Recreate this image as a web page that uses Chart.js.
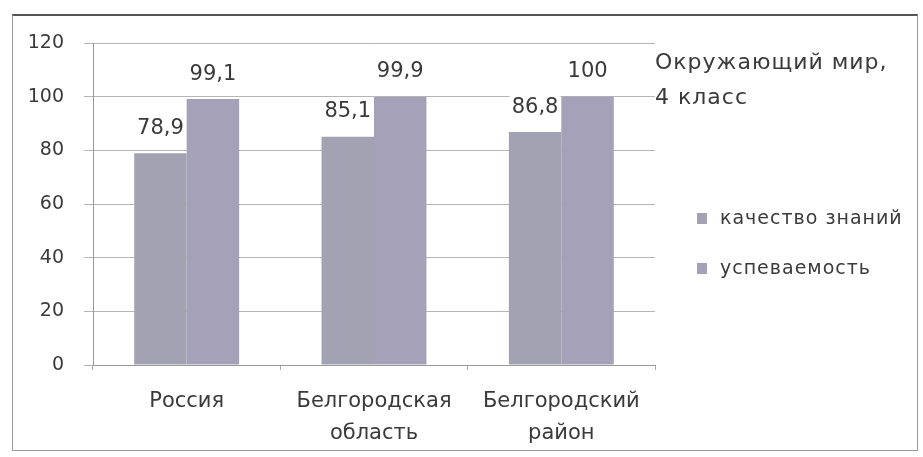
<!DOCTYPE html>
<html>
<head>
<meta charset="utf-8">
<script src="https://cdn.jsdelivr.net/npm/chart.js@4.4.1/dist/chart.umd.min.js"></script>
<style>
  html, body { margin: 0; padding: 0; background: #fff; }
  #wrap { position: relative; width: 923px; height: 457px; }
  #frame { position: absolute; left: 12px; top: 14px; width: 906px; height: 437px; border: 1px solid #9a9a9a; border-top: 2px solid #555; box-sizing: border-box; }
  #chart { position: absolute; left: 0; top: 0; }
  .txt { position: absolute; font-family: "DejaVu Sans", sans-serif; color: #3a3a3a; white-space: nowrap; }
  #title { left: 655px; top: 44px; font-size: 22px; line-height: 35px; letter-spacing: 1px; }
  #legend { left: 697px; top: 206px; font-size: 19px; letter-spacing: 1px; }
  #legend div { height: 50px; line-height: 22px; }
  #legend span.box { display: inline-block; width: 10px; height: 11px; margin-right: 13px; vertical-align: 0px; }
</style>
</head>
<body>
<div id="wrap">
  <div id="frame"></div>
  <canvas id="chart" width="923" height="457"></canvas>
  <div id="title" class="txt">Окружающий мир,<br>4 класс</div>
  <div id="legend" class="txt"></div>
</div>
<script>
// данные диаграммы
const categories = [["Россия"], ["Белгородская", "область"], ["Белгородский", "район"]];
const seriesNames = ["качество знаний", "успеваемость"];
const qualityValues = [78.9, 85.1, 86.8];
const successValues = [99.1, 99.9, 100];
const yTicks = [0, 20, 40, 60, 80, 100, 120];
const seriesColors = ["#a3a2b2", "#a4a1b8"];

const fontFamily = '"DejaVu Sans", sans-serif';

// подписи значений над столбцами
const valueLabels = {
  id: 'valueLabels',
  afterDatasetsDraw(chart) {
    const ctx = chart.ctx;
    ctx.save();
    ctx.font = '21px ' + fontFamily;
    ctx.textAlign = 'center';
    ctx.textBaseline = 'middle';
    chart.data.datasets.forEach((ds, i) => {
      chart.getDatasetMeta(i).data.forEach((bar, j) => {
        const text = String(ds.data[j]).replace('.', ',');
        const w = ctx.measureText(text).width;
        const y = bar.y - 25;
        ctx.fillStyle = '#fff';
        ctx.fillRect(bar.x - w / 2 - 2, y - 13, w + 4, 26);
        ctx.fillStyle = '#3a3a3a';
        ctx.fillText(text, bar.x, y);
      });
    });
    ctx.restore();
  }
};

const chart = new Chart(document.getElementById('chart'), {
  type: 'bar',
  data: {
    labels: categories,
    datasets: [
      { label: seriesNames[0], data: qualityValues, backgroundColor: seriesColors[0] },
      { label: seriesNames[1], data: successValues, backgroundColor: seriesColors[1] }
    ]
  },
  options: {
    responsive: false,
    animation: false,
    layout: { padding: { left: 20, top: 43, right: 268, bottom: 0 } },
    plugins: { legend: { display: false }, tooltip: { enabled: false } },
    datasets: { bar: { categoryPercentage: 0.56, barPercentage: 1 } },
    scales: {
      x: {
        afterFit: s => { s.height = 92; },
        grid: { drawOnChartArea: false, drawTicks: true, tickLength: 5, color: '#aaa' },
        border: { color: '#999' },
        ticks: { color: '#3a3a3a', font: { family: fontFamily, size: 21, lineHeight: 1.5 }, padding: 16, maxRotation: 0 }
      },
      y: {
        min: 0, max: 120,
        afterFit: s => { s.width = 73; },
        afterBuildTicks: s => { s.ticks = yTicks.map(v => ({ value: v })); },
        grid: { color: '#b5b5b5', tickLength: 9 },
        border: { color: '#999' },
        ticks: { color: '#3a3a3a', font: { family: fontFamily, size: 19 }, padding: 20 }
      }
    }
  },
  plugins: [valueLabels]
});

// легенда справа
const legend = document.getElementById('legend');
chart.data.datasets.forEach(ds => {
  const row = document.createElement('div');
  const box = document.createElement('span');
  box.className = 'box';
  box.style.background = ds.backgroundColor;
  row.appendChild(box);
  row.appendChild(document.createTextNode(ds.label));
  legend.appendChild(row);
});
</script>
</body>
</html>
